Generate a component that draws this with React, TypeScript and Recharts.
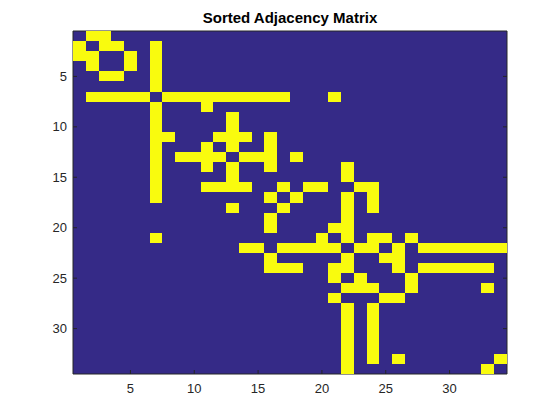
import { ScatterChart, Scatter, XAxis, YAxis, ReferenceArea } from 'recharts';

// node ids along both axes (sorted order)
const nodes = [
  1, 2, 3, 4, 5, 6, 7, 8, 9, 10, 11, 12, 13, 14, 15, 16, 17,
  18, 19, 20, 21, 22, 23, 24, 25, 26, 27, 28, 29, 30, 31, 32, 33, 34,
];
const tickLabels = [5, 10, 15, 20, 25, 30];

// neighbours of each row (1-based column indices)
const neighbors: number[][] = [
  [2, 3],
  [1, 3, 4, 7],
  [1, 2, 5, 7],
  [2, 5, 7],
  [3, 4, 7],
  [7],
  [2, 3, 4, 5, 6, 8, 9, 10, 11, 12, 13, 14, 15, 16, 17, 21],
  [7, 11],
  [7, 13],
  [7, 13],
  [7, 8, 12, 13, 14, 16],
  [7, 11, 13, 16],
  [7, 9, 10, 11, 12, 14, 15, 16, 18],
  [7, 11, 13, 16, 22],
  [7, 13, 22],
  [7, 11, 12, 13, 14, 17, 19, 20, 23, 24],
  [7, 16, 18, 22, 24],
  [13, 17, 22, 24],
  [16, 22],
  [16, 21, 22],
  [7, 20, 22, 24, 25, 27],
  [14, 15, 17, 18, 19, 20, 21, 23, 24, 26, 28, 29, 30, 31, 32, 33, 34],
  [16, 22, 25, 26],
  [16, 17, 18, 21, 22, 26, 28, 29, 30, 31, 32, 33],
  [21, 23, 27],
  [22, 23, 24, 27, 33],
  [21, 25, 26],
  [22, 24],
  [22, 24],
  [22, 24],
  [22, 24],
  [22, 24],
  [22, 24, 26, 34],
  [22, 33],
];

const cells = nodes.flatMap((row, i) => neighbors[i].map((col) => ({ row, col })));

const W = 560;
const H = 420;
const margin = { top: 30, right: 52, bottom: 16, left: 33 };
const Y_AXIS_W = 40;
const X_AXIS_H = 30;
const plotW = W - margin.left - margin.right - Y_AXIS_W - 1;
const plotH = H - margin.top - margin.bottom - X_AXIS_H - 1;
const cellW = plotW / nodes.length;
const cellH = plotH / nodes.length;

const DARK = '#352a87';
const YELLOW = '#f9fb0e';
const AXIS = '#262626';
const domain: [number, number] = [0.5, nodes.length + 0.5];

const CellShape = (props: any) => {
  const { cx, cy } = props;
  return (
    <rect
      x={cx - cellW / 2}
      y={cy - cellH / 2}
      width={cellW}
      height={cellH}
      fill={YELLOW}
      shapeRendering="crispEdges"
    />
  );
};

const tickStyle = { fill: AXIS, fontSize: 13 };

export default function App() {
  return (
    <div style={{ position: 'absolute', left: 0, top: 0, background: '#fff' }}>
      <ScatterChart
        width={W}
        height={H}
        margin={margin}
        style={{ fontFamily: '"Liberation Sans", Arial, sans-serif' }}
      >
        <XAxis
          xAxisId="b"
          dataKey="col"
          type="number"
          domain={domain}
          ticks={tickLabels}
          allowDataOverflow
          height={X_AXIS_H}
          tickSize={-4}
          tickMargin={14}
          axisLine={{ stroke: AXIS }}
          tickLine={{ stroke: AXIS }}
          tick={tickStyle}
        />
        <XAxis
          xAxisId="t"
          orientation="top"
          type="number"
          domain={domain}
          ticks={tickLabels}
          allowDataOverflow
          height={1}
          tickSize={-4}
          tickFormatter={() => ''}
          axisLine={{ stroke: AXIS }}
          tickLine={{ stroke: AXIS }}
          label={{
            value: 'Sorted Adjacency Matrix',
            position: 'top',
            offset: 7,
            style: { fontWeight: 'bold', fontSize: 15, fill: '#000' },
          }}
        />
        <YAxis
          yAxisId="l"
          dataKey="row"
          type="number"
          domain={domain}
          ticks={tickLabels}
          reversed
          allowDataOverflow
          width={Y_AXIS_W}
          tickSize={-4}
          tickMargin={10}
          axisLine={{ stroke: AXIS }}
          tickLine={{ stroke: AXIS }}
          tick={tickStyle}
        />
        <YAxis
          yAxisId="r"
          orientation="right"
          type="number"
          domain={domain}
          ticks={tickLabels}
          reversed
          allowDataOverflow
          width={1}
          tickSize={-4}
          tickFormatter={() => ''}
          axisLine={{ stroke: AXIS }}
          tickLine={{ stroke: AXIS }}
        />
        <ReferenceArea
          xAxisId="b"
          yAxisId="l"
          x1={domain[0]}
          x2={domain[1]}
          y1={domain[0]}
          y2={domain[1]}
          fill={DARK}
          fillOpacity={1}
          stroke="none"
        />
        <Scatter
          xAxisId="b"
          yAxisId="l"
          data={cells}
          shape={CellShape}
          isAnimationActive={false}
        />
      </ScatterChart>
    </div>
  );
}
